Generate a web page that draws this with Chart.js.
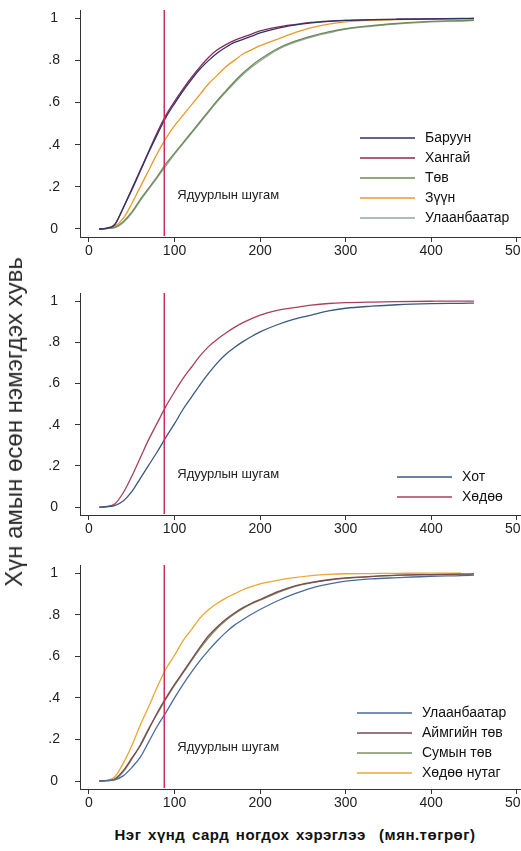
<!DOCTYPE html>
<html>
<head>
<meta charset="utf-8">
<script src="https://cdn.jsdelivr.net/npm/chart.js@4.4.0/dist/chart.umd.min.js"></script>
<style>
  html, body { margin: 0; padding: 0; background: #fff; width: 521px; height: 851px; overflow: hidden; }
  .panel { position: absolute; left: 0; }
  #yTitle {
    position: absolute; left: 14px; top: 422px;
    transform: translate(-50%, -50%) rotate(-90deg);
    white-space: nowrap; font: 24px "Liberation Sans", Arial, sans-serif; color: #2a2a2a;
  }
  #xTitle {
    position: absolute; left: 295px; top: 826px; transform: translateX(-50%);
    white-space: nowrap; font: bold 15px "Liberation Sans", Arial, sans-serif; color: #111;
    letter-spacing: 0.5px; word-spacing: 2px;
  }
</style>
</head>
<body>
<canvas id="chart1" class="panel" width="545" height="259" style="top:0px"></canvas>
<canvas id="chart2" class="panel" width="545" height="254" style="top:283px"></canvas>
<canvas id="chart3" class="panel" width="545" height="256" style="top:555px"></canvas>
<div id="yTitle">Хүн амын өсөн нэмэгдэх хувь</div>
<div id="xTitle">Нэг хүнд сард ногдох хэрэглээ&nbsp; (мян.төгрөг)</div>

<script>
// monthly consumption per person (thousand tugrik), x grid for all curves
const consumption = [12, 20, 30, 40, 50, 60, 70, 80, 90, 100, 110, 120, 130, 140, 150, 160, 170, 180, 190, 200, 220, 240, 260, 280, 300, 330, 360, 400, 435, 450];
const povertyLine = 88;
const povertyText = 'Ядуурлын шугам';
const xTicks = [0, 100, 200, 300, 400, 500];
const yTicks = [0, 0.2, 0.4, 0.6, 0.8, 1];

// panel 1 - regions
const regionLabels = ['Баруун', 'Хангай', 'Төв', 'Зүүн', 'Улаанбаатар'];
const baruun = [0, 0.003, 0.02, 0.10, 0.185, 0.275, 0.365, 0.45, 0.53, 0.595, 0.655, 0.71, 0.76, 0.80, 0.835, 0.862, 0.885, 0.90, 0.915, 0.93, 0.952, 0.967, 0.978, 0.985, 0.99, 0.993, 0.995, 0.997, 0.998, 0.998];
const khangai = [0, 0.003, 0.02, 0.10, 0.19, 0.28, 0.37, 0.46, 0.54, 0.605, 0.665, 0.72, 0.77, 0.815, 0.85, 0.875, 0.895, 0.91, 0.925, 0.94, 0.958, 0.97, 0.98, 0.986, 0.99, 0.993, 0.995, 0.997, 0.999, 1.0];
const tuv = [0, 0.002, 0.008, 0.035, 0.08, 0.14, 0.195, 0.25, 0.31, 0.36, 0.41, 0.46, 0.51, 0.56, 0.61, 0.655, 0.70, 0.74, 0.775, 0.805, 0.855, 0.89, 0.915, 0.935, 0.95, 0.965, 0.975, 0.985, 0.988, 0.99];
const zuun = [0, 0.003, 0.012, 0.05, 0.12, 0.20, 0.28, 0.36, 0.43, 0.49, 0.54, 0.59, 0.64, 0.69, 0.73, 0.77, 0.80, 0.83, 0.85, 0.87, 0.90, 0.93, 0.955, 0.972, 0.983, 0.99, 0.993, 0.996, 0.997, 0.998];
const ubRegion = [0, 0.002, 0.006, 0.03, 0.075, 0.135, 0.19, 0.245, 0.30, 0.355, 0.405, 0.455, 0.505, 0.555, 0.605, 0.65, 0.693, 0.733, 0.767, 0.797, 0.85, 0.885, 0.91, 0.93, 0.948, 0.962, 0.973, 0.983, 0.988, 0.99];
const regionColors = ['#2b3566', '#8c2a5a', '#6f8a55', '#eb9a2a', '#8fa8a0'];

// panel 2 - urban / rural
const areaLabels = ['Хот', 'Хөдөө'];
const urban = [0, 0.002, 0.008, 0.03, 0.075, 0.14, 0.205, 0.27, 0.34, 0.405, 0.475, 0.535, 0.595, 0.65, 0.70, 0.742, 0.775, 0.803, 0.828, 0.85, 0.885, 0.912, 0.932, 0.952, 0.965, 0.975, 0.982, 0.987, 0.989, 0.99];
const rural = [0, 0.003, 0.015, 0.07, 0.15, 0.24, 0.33, 0.41, 0.49, 0.56, 0.625, 0.68, 0.735, 0.78, 0.815, 0.845, 0.872, 0.895, 0.915, 0.932, 0.955, 0.968, 0.98, 0.988, 0.992, 0.995, 0.997, 0.999, 1.0, 1.0];
const areaColors = ['#3a5880', '#a8405a'];

// panel 3 - settlement type
const settleLabels = ['Улаанбаатар', 'Аймгийн төв', 'Сумын төв', 'Хөдөө нутаг'];
const ubSettle = [0, 0.002, 0.006, 0.025, 0.065, 0.115, 0.19, 0.265, 0.33, 0.40, 0.465, 0.525, 0.58, 0.63, 0.675, 0.715, 0.75, 0.777, 0.802, 0.825, 0.866, 0.90, 0.928, 0.947, 0.961, 0.972, 0.978, 0.985, 0.988, 0.99];
const aimagCenter = [0, 0.002, 0.01, 0.05, 0.11, 0.17, 0.25, 0.33, 0.40, 0.465, 0.525, 0.585, 0.645, 0.70, 0.742, 0.778, 0.808, 0.834, 0.855, 0.873, 0.91, 0.938, 0.955, 0.968, 0.977, 0.984, 0.99, 0.993, 0.995, 0.996];
const somCenter = [0, 0.002, 0.008, 0.045, 0.105, 0.175, 0.255, 0.325, 0.395, 0.46, 0.52, 0.58, 0.638, 0.69, 0.735, 0.772, 0.803, 0.83, 0.852, 0.87, 0.905, 0.935, 0.953, 0.966, 0.975, 0.983, 0.989, 0.993, 0.995, 0.996];
const countryside = [0, 0.003, 0.02, 0.085, 0.17, 0.27, 0.36, 0.455, 0.54, 0.605, 0.675, 0.73, 0.785, 0.825, 0.855, 0.88, 0.90, 0.92, 0.935, 0.948, 0.965, 0.978, 0.988, 0.994, 0.997, 0.998, 0.999, 1.0, 1.0, null];
const settleColors = ['#4a6aa0', '#7a4a50', '#7a9060', '#e8a830'];

const fontFamily = '"Liberation Sans", Arial, sans-serif';

const toPoints = (values) => consumption
    .map((x, i) => ({ x: x, y: values[i] }))
    .filter(p => p.y !== null);

const makeDatasets = (labels, series, colors) => labels.map((label, i) => ({
    label: label,
    data: toPoints(series[i]),
    borderColor: colors[i],
    backgroundColor: colors[i],
    borderWidth: 1.3,
    pointRadius: 0,
    cubicInterpolationMode: 'monotone',
    fill: false
}));

// poverty line, its label and a stata-like legend inside the plot
const stataPlugin = {
    id: 'stata',
    afterDatasetsDraw(chart) {
        const ctx = chart.ctx;
        const area = chart.chartArea;
        const px = chart.scales.x.getPixelForValue(povertyLine);
        ctx.save();
        ctx.strokeStyle = '#d62a5c';
        ctx.lineWidth = 1.5;
        ctx.beginPath();
        ctx.moveTo(px, area.top);
        ctx.lineTo(px, area.bottom - 1);
        ctx.stroke();

        ctx.fillStyle = '#222';
        ctx.font = '13px ' + fontFamily;
        ctx.textBaseline = 'middle';
        ctx.textAlign = 'left';
        ctx.fillText(povertyText, px + 13, chart.scales.y.getPixelForValue(0.16));

        const lg = chart.options.plugins.stata;
        ctx.font = '14px ' + fontFamily;
        chart.data.datasets.forEach((ds, i) => {
            const y = lg.y + i * 20;
            ctx.strokeStyle = ds.borderColor;
            ctx.lineWidth = 1.5;
            ctx.beginPath();
            ctx.moveTo(lg.x, y);
            ctx.lineTo(lg.x + 55, y);
            ctx.stroke();
            ctx.fillStyle = '#111';
            ctx.fillText(ds.label, lg.x + 65, y);
        });
        ctx.restore();
    }
};

const makeChart = (id, datasets, legendPos) => new Chart(document.getElementById(id), {
    type: 'line',
    data: { datasets: datasets },
    options: {
        responsive: false,
        animation: false,
        layout: { padding: { top: 10, right: 15, left: 0, bottom: 0 } },
        plugins: {
            legend: { display: false },
            tooltip: { enabled: false },
            stata: legendPos
        },
        scales: {
            x: {
                type: 'linear',
                min: -10.5,
                max: 515.5,
                afterBuildTicks: (s) => { s.ticks = xTicks.map(v => ({ value: v })); },
                afterFit: (s) => { s.height = 22; s.paddingLeft = 0; s.paddingRight = 0; },
                grid: { drawOnChartArea: false, tickLength: 5, color: '#333' },
                border: { color: '#333', width: 1 },
                ticks: { font: { family: fontFamily, size: 14 }, color: '#222', padding: 1, maxRotation: 0, autoSkip: false }
            },
            y: {
                type: 'linear',
                min: -0.038,
                max: 1.039,
                afterBuildTicks: (s) => { s.ticks = yTicks.map(v => ({ value: v })); },
                afterFit: (s) => { s.width = 80; s.paddingTop = 0; s.paddingBottom = 0; },
                grid: { drawOnChartArea: false, tickLength: 5, color: '#333' },
                border: { color: '#333', width: 1 },
                ticks: {
                    font: { family: fontFamily, size: 14 }, color: '#222',
                    crossAlign: 'center', padding: 15,
                    callback: (v) => (v === 0 || v === 1) ? String(v) : String(v).replace('0.', '.')
                }
            }
        }
    },
    plugins: [stataPlugin]
});

makeChart('chart1', makeDatasets(regionLabels, [baruun, khangai, tuv, zuun, ubRegion], regionColors), { x: 360, y: 138 });
makeChart('chart2', makeDatasets(areaLabels, [urban, rural], areaColors), { x: 397, y: 194 });
makeChart('chart3', makeDatasets(settleLabels, [ubSettle, aimagCenter, somCenter, countryside], settleColors), { x: 357, y: 158 });
</script>
</body>
</html>
